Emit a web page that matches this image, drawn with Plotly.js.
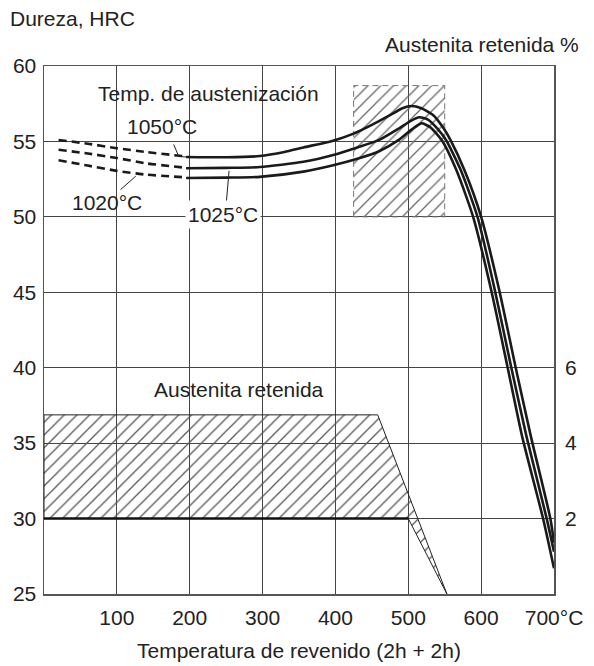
<!DOCTYPE html>
<html>
<head>
<meta charset="utf-8">
<script src="https://cdn.plot.ly/plotly-3.0.1.min.js"></script>
<style>html,body{margin:0;padding:0;background:#fff;}#chart{width:594px;height:666px;}</style>
</head>
<body>
<div id="chart"></div>
<script>
// Tempering temperature (°C) and hardness (HRC) for each austenitizing temperature
const curveNames = ['1050°C', '1025°C', '1020°C'];
// dashed (extrapolated) low-temperature part
const dashT_1050 = [20, 60, 100, 140, 195];
const dashH_1050 = [55.1, 54.85, 54.55, 54.3, 54.0];
const dashT_1025 = [20, 60, 100, 140, 195];
const dashH_1025 = [54.45, 54.2, 53.9, 53.55, 53.25];
const dashT_1020 = [20, 60, 100, 140, 195];
const dashH_1020 = [53.75, 53.4, 53.05, 52.8, 52.62];
// solid part
const solidT_1050 = [195, 250, 296, 330, 356, 397, 424, 450, 475, 492, 504, 518, 534, 548, 558, 577, 600, 625, 647, 668, 695, 700];
const solidH_1050 = [53.97, 53.95, 54.03, 54.3, 54.6, 55.05, 55.5, 56.1, 56.75, 57.2, 57.35, 57.2, 56.75, 55.9, 55.08, 53.1, 50.0, 45.1, 40.1, 35.5, 30.0, 28.4];
const solidT_1025 = [195, 250, 296, 356, 397, 430, 460, 485, 503, 515, 527, 540, 552, 572, 595, 619, 641, 662, 690, 700];
const solidH_1025 = [53.22, 53.25, 53.3, 53.65, 54.1, 54.6, 55.1, 55.8, 56.35, 56.6, 56.45, 55.85, 55.08, 53.1, 50.0, 45.1, 40.1, 35.5, 30.0, 27.8];
const solidT_1020 = [195, 250, 296, 356, 397, 430, 460, 487, 505, 518, 530, 546, 566, 589, 614, 636, 656, 685, 700];
const solidH_1020 = [52.58, 52.6, 52.65, 53.0, 53.42, 53.85, 54.35, 55.1, 55.8, 56.2, 55.95, 55.08, 53.1, 50.0, 45.1, 40.1, 35.5, 30.0, 26.7];

// Retained austenite band (%), right axis
const austT = [0, 0, 458, 553, 500, 0];
const austPct = [2, 4.75, 4.75, 0, 2, 2];
// Secondary-hardness tempering window
const windowT = [425, 425, 550, 550, 425];
const windowH = [50, 58.7, 58.7, 50, 50];

// Axis ticks
const xTickVals = [100, 200, 300, 400, 500, 600, 700];
const xTickText = ['100', '200', '300', '400', '500', '600', '700°C'];
const yTickVals = [25, 30, 35, 40, 45, 50, 55, 60];
const y2TickVals = [2, 4, 6];

const FONT = 'Liberation Sans, Arial, sans-serif';
const FS = 21;
const lineCol = '#1a1a1a';

const traces = [];
// austenite band with hatching
traces.push({
  x: austT, y: austPct, yaxis: 'y2', type: 'scatter', mode: 'lines',
  fill: 'toself', fillcolor: 'rgba(0,0,0,0)',
  fillpattern: {shape: '/', size: 9, solidity: 0.14, fgcolor: '#555', bgcolor: 'rgba(0,0,0,0)'},
  line: {color: '#222', width: 1}, hoverinfo: 'skip', showlegend: false
});
// thick lower boundary at 2 %
traces.push({
  x: [austT[0], austT[4]], y: [austPct[0], austPct[4]], yaxis: 'y2', type: 'scatter', mode: 'lines',
  line: {color: '#111', width: 2.5}, hoverinfo: 'skip', showlegend: false
});
// tempering window
traces.push({
  x: windowT, y: windowH, type: 'scatter', mode: 'lines',
  fill: 'toself', fillcolor: 'rgba(0,0,0,0)',
  fillpattern: {shape: '/', size: 9, solidity: 0.14, fgcolor: '#666', bgcolor: 'rgba(0,0,0,0)'},
  line: {color: '#777', width: 1, dash: '6px,4px'}, hoverinfo: 'skip', showlegend: false
});
const dashSets = [[dashT_1050, dashH_1050], [dashT_1025, dashH_1025], [dashT_1020, dashH_1020]];
const solidSets = [[solidT_1050, solidH_1050], [solidT_1025, solidH_1025], [solidT_1020, solidH_1020]];
dashSets.forEach((d, i) => traces.push({
  x: d[0], y: d[1], type: 'scatter', mode: 'lines', name: curveNames[i],
  line: {color: lineCol, width: 2.6, dash: '8px,5px', shape: 'spline', smoothing: 0.6}, showlegend: false
}));
solidSets.forEach((d, i) => traces.push({
  x: d[0], y: d[1], type: 'scatter', mode: 'lines', name: curveNames[i],
  line: {color: lineCol, width: 2.6, shape: 'spline', smoothing: 0.6}, showlegend: false
}));

const ann = (text, x, y, extra) => Object.assign({text, x, y, xref: 'x', yref: 'y', showarrow: false,
  font: {family: FONT, size: FS, color: '#222'}}, extra || {});

const layout = {
  width: 594, height: 666,
  margin: {l: 44, r: 40, t: 66, b: 72},
  paper_bgcolor: '#fff', plot_bgcolor: '#fff',
  font: {family: FONT, size: FS, color: '#222'},
  showlegend: false,
  xaxis: {
    range: [0, 700], tickvals: xTickVals, ticktext: xTickText,
    showgrid: true, gridcolor: '#444', gridwidth: 1, zeroline: false,
    showline: true, linecolor: '#555', linewidth: 1.5, mirror: true,
    ticks: '', ticklabelstandoff: 4
  },
  yaxis: {
    range: [25, 60], tickvals: yTickVals,
    showgrid: true, gridcolor: '#444', gridwidth: 1, zeroline: false,
    showline: true, linecolor: '#555', linewidth: 1.5, mirror: true,
    ticks: '', ticklabelstandoff: 2
  },
  yaxis2: {
    range: [0, 14], tickvals: y2TickVals, overlaying: 'y', side: 'right',
    showgrid: false, zeroline: false, showline: false, ticks: '', ticklabelstandoff: 10
  },
  shapes: [
    {type: 'line', xref: 'x', yref: 'y', x0: 178, y0: 54.8, x1: 185, y1: 54.0, line: {color: '#222', width: 1}},
    {type: 'line', xref: 'x', yref: 'y', x0: 185, y0: 54.0, x1: 195, y1: 53.97, line: {color: '#222', width: 1}},
    {type: 'line', xref: 'x', yref: 'y', x0: 105, y0: 51.8, x1: 126, y1: 52.7, line: {color: '#222', width: 1}},
    {type: 'line', xref: 'x', yref: 'y', x0: 250, y0: 50.8, x1: 254, y1: 53.05, line: {color: '#222', width: 1}}
  ],
  annotations: [
    ann('Temp. de austenización', 226, 58.15),
    ann('1050°C', 162, 56.0),
    ann('1020°C', 86, 50.93),
    ann('1025°C', 246, 50.18, {bgcolor: '#fff', borderpad: 2}),
    ann('Austenita retenida', 268, 38.57),
    {text: 'Dureza, HRC', xref: 'paper', yref: 'paper', x: -0.071, y: 1.09, xanchor: 'left', yanchor: 'middle', showarrow: false},
    {text: 'Austenita retenida %', xref: 'paper', yref: 'paper', x: 1.053, y: 1.041, xanchor: 'right', yanchor: 'middle', showarrow: false},
    {text: 'Temperatura de revenido (2h + 2h)', xref: 'paper', yref: 'paper', x: 0.5, y: -0.107, xanchor: 'center', yanchor: 'middle', showarrow: false}
  ]
};

Plotly.newPlot('chart', traces, layout, {staticPlot: true, displayModeBar: false});
</script>
</body>
</html>
